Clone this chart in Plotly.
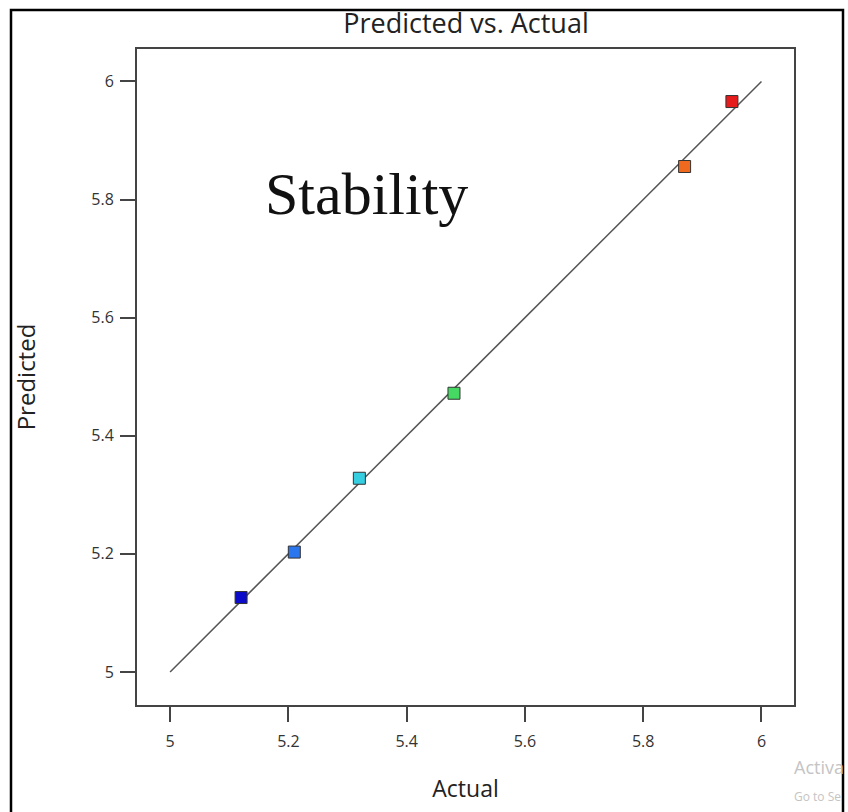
import plotly.graph_objects as go

# Observed response vs. model prediction
actual = [5.12, 5.21, 5.32, 5.48, 5.87, 5.95]
predicted = [5.126, 5.203, 5.328, 5.472, 5.856, 5.966]
point_colors = ["#0b0bc9", "#2a76ee", "#36cfe2", "#45d862", "#ef6a1e", "#e61b1b"]

tick_vals = [5, 5.2, 5.4, 5.6, 5.8, 6]
tick_text = ["5", "5.2", "5.4", "5.6", "5.8", "6"]
axis_range = [4.944, 6.055]
ref_line = [5, 6]

W, H = 848, 812
L, R, T, B = 137, 54, 49, 107
pw, ph = W - L - R, H - T - B


def px_x(p):
    return (p - L) / pw


def px_y(p):
    return 1 - (p - T) / ph


fig = go.Figure()

# 45-degree reference line
fig.add_trace(go.Scatter(
    x=ref_line, y=ref_line, mode="lines",
    line=dict(color="#555555", width=1.5),
    hoverinfo="skip", showlegend=False,
))

fig.add_trace(go.Scatter(
    x=actual, y=predicted, mode="markers",
    marker=dict(symbol="square", size=12, color=point_colors,
                line=dict(color="#333333", width=1)),
    showlegend=False,
))

axis_common = dict(
    range=axis_range, tickvals=tick_vals, ticktext=tick_text,
    showgrid=False, zeroline=False,
    showline=True, linecolor="#444444", linewidth=2, mirror=True,
    ticks="outside", ticklen=15, tickwidth=2, tickcolor="#444444",
    tickfont=dict(family="Open Sans, sans-serif", size=16, color="#333333"),
)

fig.update_layout(
    width=W, height=H,
    margin=dict(l=L, r=R, t=T, b=B),
    paper_bgcolor="white", plot_bgcolor="white",
    title=dict(text="Predicted vs. Actual", x=466 / W,
               xanchor="center", y=1 - 24 / H, yanchor="middle",
               font=dict(family="Open Sans, sans-serif", size=27, color="#222222")),
    xaxis=dict(**axis_common, ticklabelstandoff=6,
               title=dict(text="Actual", standoff=30,
                          font=dict(family="Open Sans, sans-serif", size=23, color="#222222"))),
    yaxis=dict(**axis_common, ticklabelstandoff=3,
               title=dict(text="Predicted", standoff=49,
                          font=dict(family="Open Sans, sans-serif", size=24, color="#222222"))),
    shapes=[dict(type="rect", xref="paper", yref="paper",
                 x0=px_x(11), x1=px_x(843), y0=px_y(830), y1=px_y(10),
                 line=dict(color="black", width=2.5), fillcolor="rgba(0,0,0,0)",
                 layer="above")],
    annotations=[
        dict(text="Stability", x=5.332, y=5.81, xref="x", yref="y",
             showarrow=False, xanchor="center", yanchor="middle",
             font=dict(family="Liberation Serif, Times New Roman, serif", size=60, color="#111111")),
        dict(text="Activa", x=px_x(792), y=px_y(767), xref="paper", yref="paper",
             showarrow=False, xanchor="left", yanchor="middle",
             font=dict(family="Open Sans, sans-serif", size=18, color="#c4c4c4")),
        dict(text="Go to Se", x=px_x(792), y=px_y(797), xref="paper", yref="paper",
             showarrow=False, xanchor="left", yanchor="middle",
             font=dict(family="Open Sans, sans-serif", size=12, color="#c4c4c4")),
    ],
)

fig.write_html("out.html")
